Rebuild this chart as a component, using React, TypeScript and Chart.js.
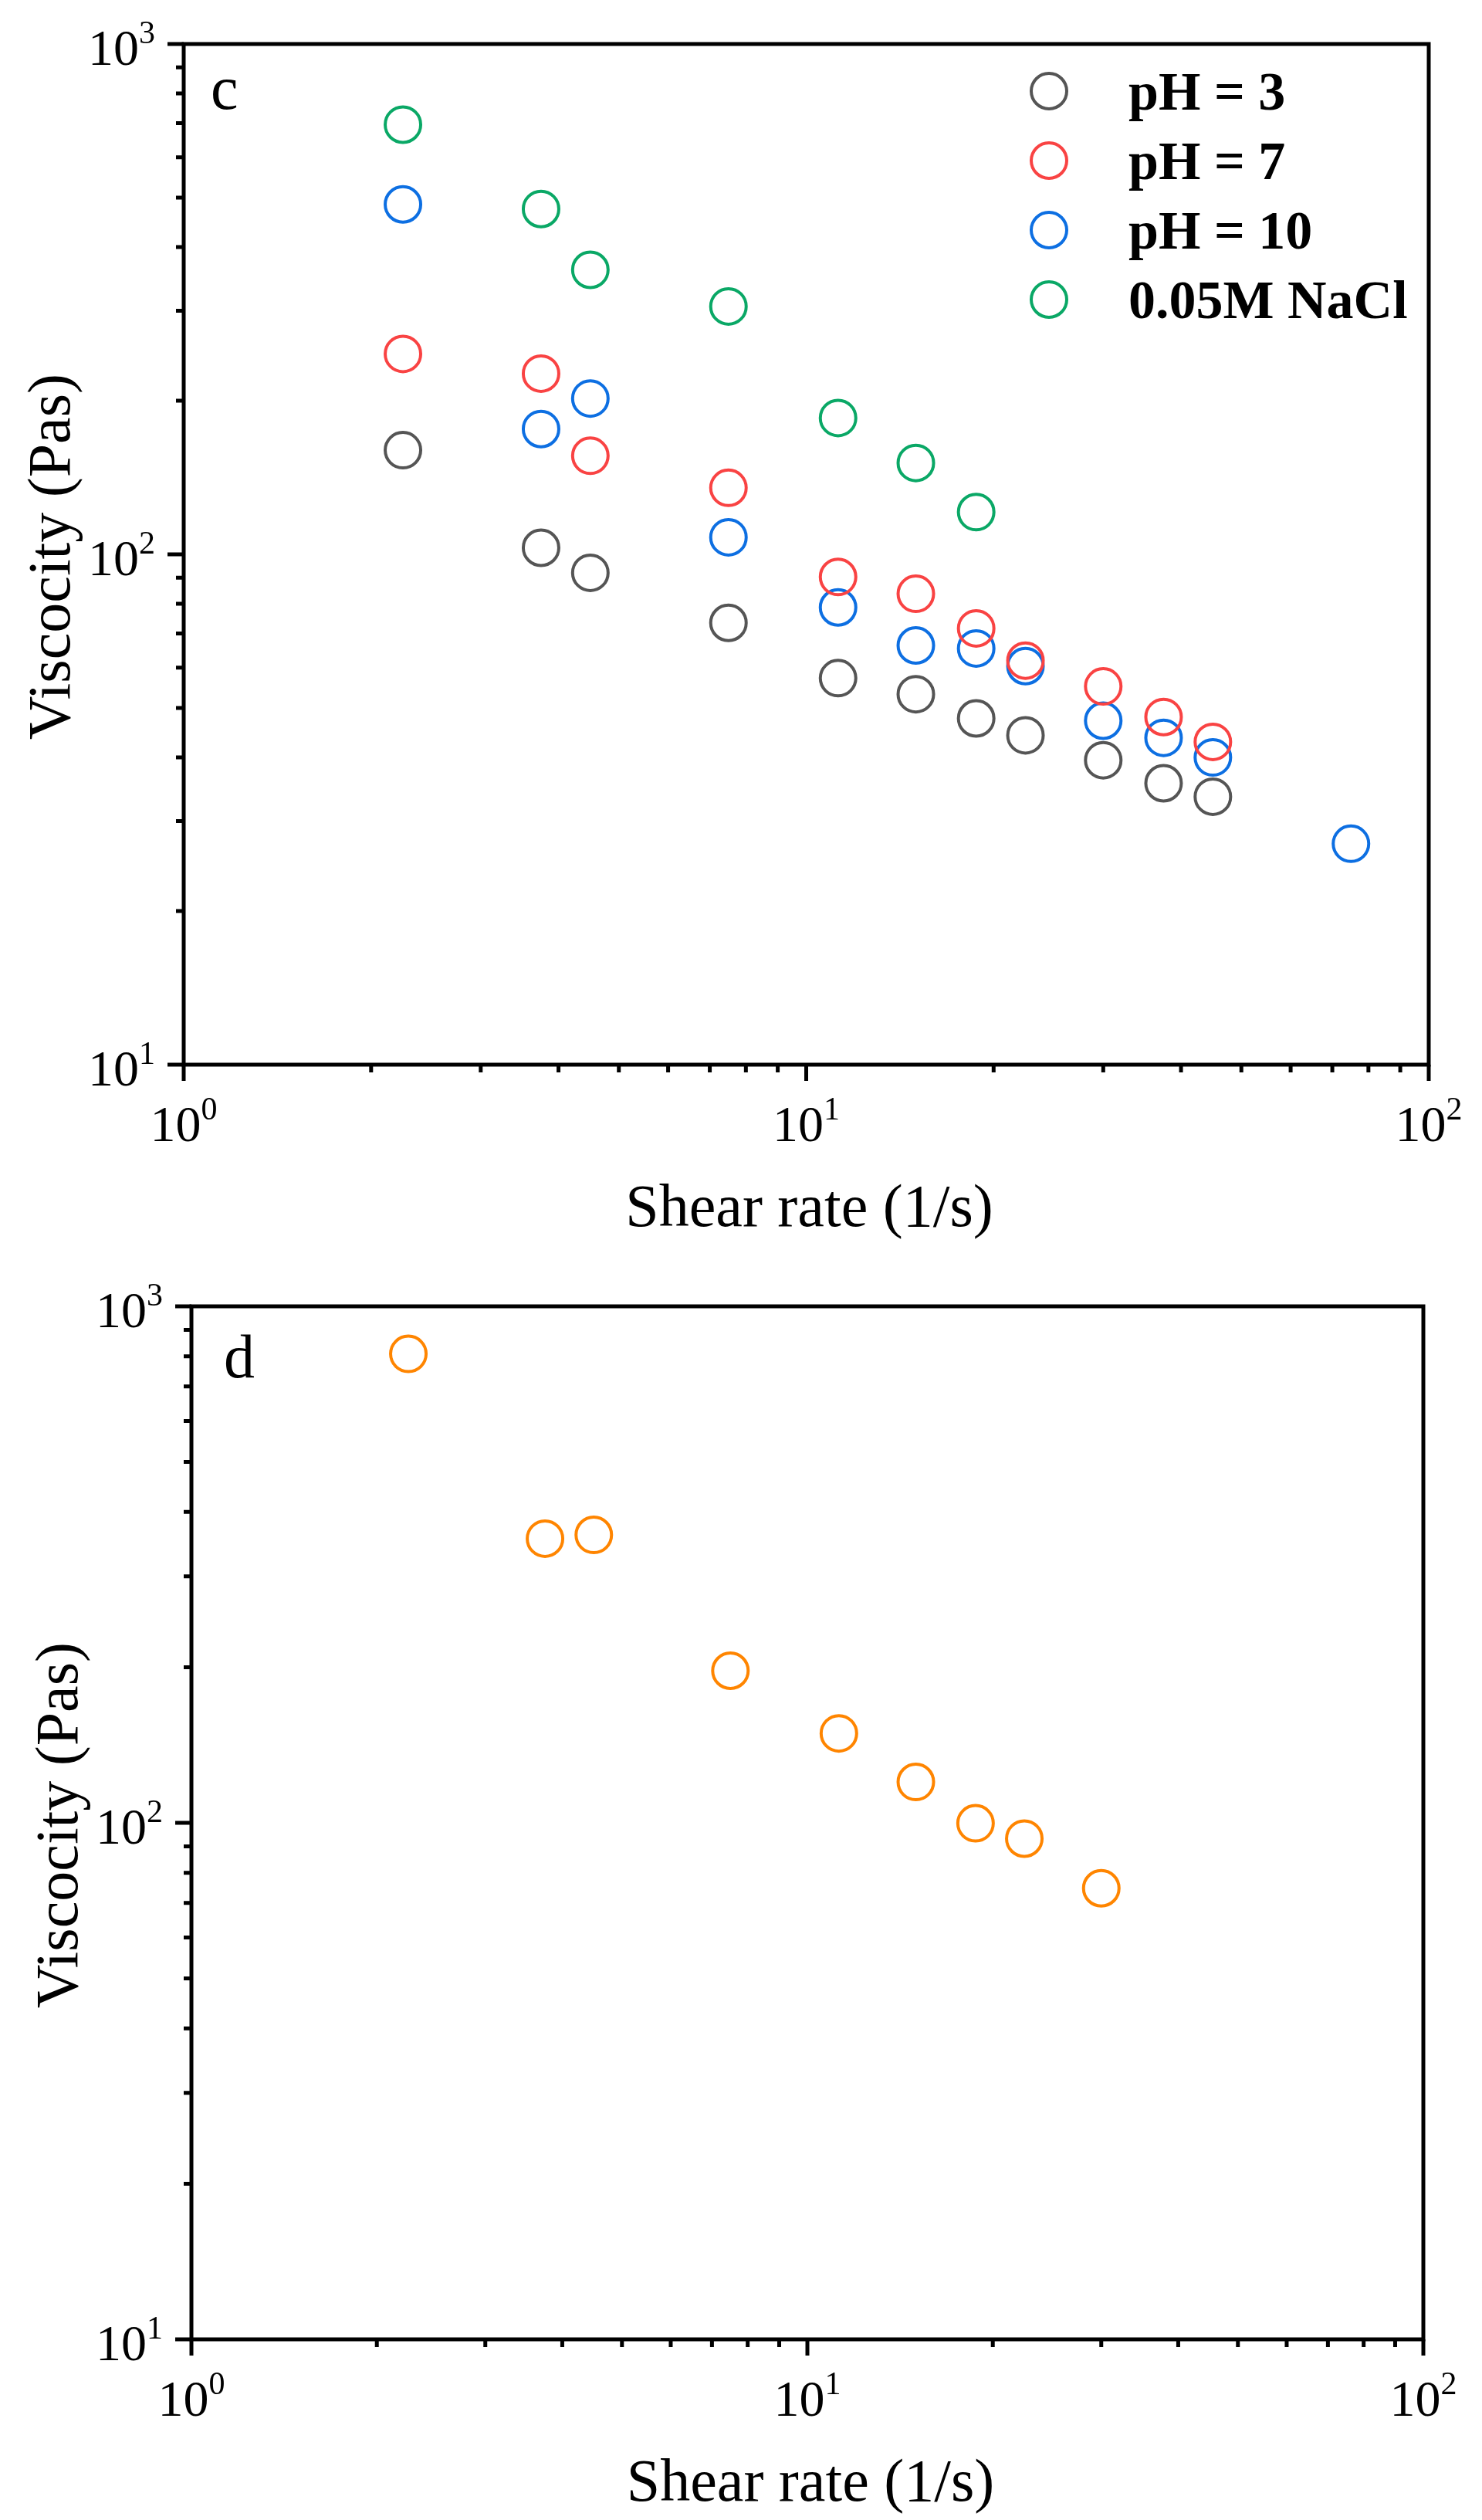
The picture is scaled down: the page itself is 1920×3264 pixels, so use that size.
import { useEffect, useRef } from "react"
import { Chart, registerables, type ChartConfiguration, type Plugin } from "chart.js"

Chart.register(...registerables)

// shear rate (1/s)
const shearRate = [2.25, 3.75, 4.5, 7.5, 11.25, 15, 18.75, 22.5, 30, 37.5, 45]
const shearRatePH10 = [2.25, 3.75, 4.5, 7.5, 11.25, 15, 18.75, 22.5, 30, 37.5, 45, 75]
const shearRateNaCl = [2.25, 3.75, 4.5, 7.5, 11.25, 15, 18.75]
const shearRateD = [2.25, 3.75, 4.5, 7.5, 11.25, 15, 18.75, 22.5, 30]

// viscosity (Pas)
const viscosityPH3 = [160, 103, 92, 73.4, 57.2, 53.2, 47.7, 44.2, 39.5, 35.6, 33.5]
const viscosityPH7 = [247, 226, 156, 135, 90.3, 83.7, 71.6, 61.9, 55.1, 48.0, 42.9]
const viscosityPH10 = [485, 176, 202, 108, 78.7, 66.3, 65.4, 60.4, 47.2, 43.7, 40.0, 27.1]
const viscosityNaCl = [695, 475, 361, 306, 185, 151, 121]
const viscosityD = [809, 355, 361, 197, 149, 120, 99.8, 93.2, 74.7]

const seriesLabels = ["pH = 3", "pH = 7", "pH = 10", "0.05M NaCl"]
const seriesColors = ["#555555", "#f94343", "#0d6fe2", "#0aa866"]
const orange = "#ff8500"

const xTicks = [1, 10, 100]
const yTicks = [10, 100, 1000]

const xTitle = "Shear rate (1/s)"
const yTitle = "Viscocity (Pas)"

const serif = "'Liberation Serif', 'Times New Roman', serif"
const W = 1920
const H = 1632

type Frame = { left: number; top: number; right: number; bottom: number }

const points = (xs: number[], ys: number[]) => xs.map((x, i) => ({ x, y: ys[i] }))

function originAxes(letter: string, letterDx: number, letterDy: number, legend: boolean): Plugin<"scatter"> {
  return {
    id: "originAxes",
    afterDraw(chart) {
      const { ctx, chartArea: a } = chart
      const sx = chart.scales.x
      const sy = chart.scales.y
      ctx.save()

      // frame
      ctx.strokeStyle = "#000"
      ctx.lineWidth = 5
      ctx.strokeRect(a.left, a.top, a.right - a.left, a.bottom - a.top)

      // ticks, outward
      ctx.beginPath()
      xTicks.forEach((v, i) => {
        const px = sx.getPixelForValue(v)
        ctx.moveTo(px, a.bottom)
        ctx.lineTo(px, a.bottom + 21)
        if (i < xTicks.length - 1) {
          for (let k = 2; k < 10; k++) {
            const mx = sx.getPixelForValue(v * k)
            ctx.moveTo(mx, a.bottom)
            ctx.lineTo(mx, a.bottom + 10)
          }
        }
      })
      yTicks.forEach((v, i) => {
        const py = sy.getPixelForValue(v)
        ctx.moveTo(a.left, py)
        ctx.lineTo(a.left - 21, py)
        if (i < yTicks.length - 1) {
          for (let k = 2; k < 10; k++) {
            const my = sy.getPixelForValue(v * k)
            ctx.moveTo(a.left, my)
            ctx.lineTo(a.left - 10, my)
          }
        }
      })
      ctx.stroke()

      // tick labels as 10^n
      ctx.fillStyle = "#000"
      ctx.textAlign = "left"
      ctx.textBaseline = "alphabetic"
      const mainFont = `66px ${serif}`
      const supFont = `42px ${serif}`
      const drawPow = (v: number, x0: number, base: number) => {
        const exp = String(Math.round(Math.log10(v)))
        ctx.font = mainFont
        const w1 = ctx.measureText("10").width
        ctx.fillText("10", x0, base)
        ctx.font = supFont
        ctx.fillText(exp, x0 + w1, base - 28)
      }
      const powWidth = (v: number) => {
        const exp = String(Math.round(Math.log10(v)))
        ctx.font = mainFont
        const w1 = ctx.measureText("10").width
        ctx.font = supFont
        return w1 + ctx.measureText(exp).width
      }
      xTicks.forEach((v) => {
        const px = sx.getPixelForValue(v)
        drawPow(v, px - powWidth(v) / 2, a.bottom + 99)
      })
      yTicks.forEach((v) => {
        const py = sy.getPixelForValue(v)
        drawPow(v, a.left - 37 - powWidth(v), py + 27)
      })

      // axis titles
      ctx.font = `78px ${serif}`
      ctx.textAlign = "center"
      ctx.fillText(xTitle, (a.left + a.right) / 2 + 4, a.bottom + 209)
      ctx.save()
      ctx.translate(a.left - 148, (a.top + a.bottom) / 2 + 3)
      ctx.rotate(-Math.PI / 2)
      ctx.fillText(yTitle, 0, 0)
      ctx.restore()

      // panel letter
      ctx.textAlign = "left"
      ctx.font = `80px ${serif}`
      ctx.fillText(letter, a.left + letterDx, a.top + letterDy)

      // legend
      if (legend) {
        ctx.font = `bold 70px ${serif}`
        ctx.lineWidth = 4
        chart.data.datasets.forEach((ds, i) => {
          const cy = a.top + 61 + 90 * i
          const cx = a.right - 492
          ctx.strokeStyle = ds.borderColor as string
          ctx.beginPath()
          ctx.arc(cx, cy, 23, 0, Math.PI * 2)
          ctx.stroke()
          ctx.fillText(ds.label ?? "", a.right - 389, cy + 24)
        })
      }
      ctx.restore()
    },
  }
}

type PanelProps = {
  datasets: { label: string; data: { x: number; y: number }[]; color: string }[]
  frame: Frame
  letter: string
  letterDx: number
  letterDy: number
  legend: boolean
}

function ViscosityPanel({ datasets, frame, letter, letterDx, letterDy, legend }: PanelProps) {
  const chartRef = useRef<HTMLCanvasElement>(null)
  const chartInstance = useRef<Chart | null>(null)

  useEffect(() => {
    if (!chartRef.current) return
    const ctx = chartRef.current.getContext("2d")
    if (!ctx) return
    if (chartInstance.current) chartInstance.current.destroy()

    const config: ChartConfiguration<"scatter"> = {
      type: "scatter",
      data: {
        datasets: datasets.map((d) => ({
          label: d.label,
          data: d.data,
          borderColor: d.color,
          backgroundColor: "rgba(0,0,0,0)",
          pointStyle: "circle",
          pointRadius: 23,
          pointHoverRadius: 23,
          pointBorderWidth: 4,
          pointHoverBorderWidth: 4,
          borderWidth: 4,
          showLine: false,
          clip: false,
        })),
      },
      options: {
        responsive: false,
        animation: false,
        devicePixelRatio: 1,
        events: [],
        layout: {
          padding: { left: 0, top: frame.top, right: W - frame.right, bottom: 0 },
        },
        plugins: {
          legend: { display: false },
          tooltip: { enabled: false },
        },
        scales: {
          x: {
            type: "logarithmic",
            min: 1,
            max: 100,
            ticks: { display: false },
            grid: { display: false },
            border: { display: false },
            afterFit: (s) => {
              s.height = H - frame.bottom
            },
          },
          y: {
            type: "logarithmic",
            min: 10,
            max: 1000,
            ticks: { display: false },
            grid: { display: false },
            border: { display: false },
            afterFit: (s) => {
              s.width = frame.left
            },
          },
        },
      },
      plugins: [originAxes(letter, letterDx, letterDy, legend)],
    }

    chartInstance.current = new Chart(ctx, config)

    return () => {
      if (chartInstance.current) {
        chartInstance.current.destroy()
        chartInstance.current = null
      }
    }
  }, [])

  return <canvas ref={chartRef} width={W} height={H} style={{ display: "block", width: W, height: H }} />
}

export default function App() {
  const topSets = [
    { label: seriesLabels[0], data: points(shearRate, viscosityPH3), color: seriesColors[0] },
    { label: seriesLabels[1], data: points(shearRate, viscosityPH7), color: seriesColors[1] },
    { label: seriesLabels[2], data: points(shearRatePH10, viscosityPH10), color: seriesColors[2] },
    { label: seriesLabels[3], data: points(shearRateNaCl, viscosityNaCl), color: seriesColors[3] },
  ]
  const bottomSets = [{ label: "d", data: points(shearRateD, viscosityD), color: orange }]

  return (
    <div style={{ position: "absolute", left: 0, top: 0, width: W, height: H * 2, background: "#fff" }}>
      <ViscosityPanel
        datasets={topSets}
        frame={{ left: 238, top: 57, right: 1851, bottom: 1379 }}
        letter="c"
        letterDx={35}
        letterDy={84}
        legend={true}
      />
      <ViscosityPanel
        datasets={bottomSets}
        frame={{ left: 248, top: 60, right: 1844, bottom: 1398 }}
        letter="d"
        letterDx={42}
        letterDy={92}
        legend={false}
      />
    </div>
  )
}
